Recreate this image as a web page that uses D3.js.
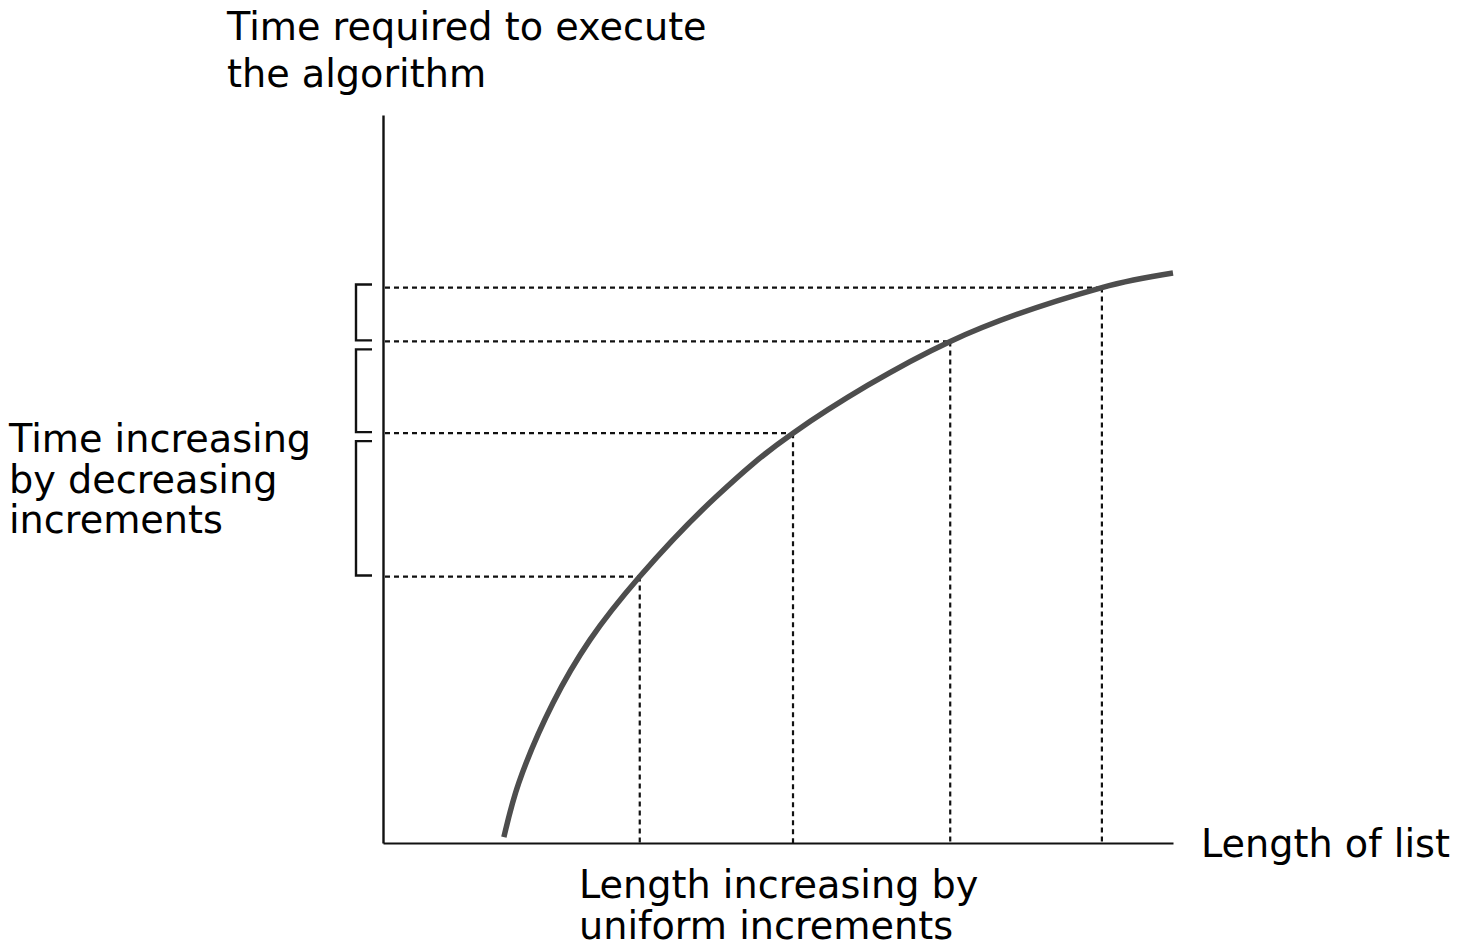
<!DOCTYPE html>
<html>
<head>
<meta charset="utf-8">
<script src="https://cdn.jsdelivr.net/npm/d3@7"></script>
<style>
  html, body { margin: 0; padding: 0; background: #fff; }
  svg { display: block; }
  text { font-family: "DejaVu Sans", sans-serif; fill: #000; }
</style>
</head>
<body>
<svg id="chart" width="1460" height="951"></svg>
<script>
// Curve (x: length of list, y: time), both in 0–100 units
const curveX = [15.3, 17.2, 21.5, 26.2, 32.5, 42.2, 51.9, 71.8, 91.0, 100];
const curveY = [0.8, 8.3, 19.2, 27.9, 36.6, 47.6, 56.3, 68.9, 76.3, 78.3];
// Uniformly spaced list lengths and the corresponding times
const markX = [32.5, 51.9, 71.8, 91.0];
const markY = [36.6, 56.3, 68.9, 76.3];
// Labels
const yTitle = ["Time required to execute", "the algorithm"];
const xTitle = ["Length of list"];
const leftNote = ["Time increasing", "by decreasing", "increments"];
const bottomNote = ["Length increasing by", "uniform increments"];

const svg = d3.select("#chart");
const x = d3.scaleLinear().domain([0, 100]).range([383, 1173]);
const y = d3.scaleLinear().domain([0, 100]).range([843, 115]);

// Axes (no ticks)
const xAxis = d3.axisBottom(x).tickValues([]).tickSizeOuter(0);
const yAxis = d3.axisLeft(y).tickValues([]).tickSizeOuter(0);
svg.append("g").attr("transform", `translate(0,${y(0)})`).call(xAxis)
  .select(".domain").attr("stroke", "#111").attr("stroke-width", 2.2);
svg.append("g").attr("transform", `translate(${x(0)},0)`).call(yAxis)
  .select(".domain").attr("stroke", "#111").attr("stroke-width", 2.4);

// Dashed guide lines
const marks = markX.map((v, i) => ({ x: markX[i], y: markY[i] }));
svg.append("g").selectAll("line.h").data(marks).join("line")
  .attr("x1", x(0) + 2).attr("x2", d => x(d.x))
  .attr("y1", d => y(d.y)).attr("y2", d => y(d.y))
  .attr("stroke", "#111").attr("stroke-width", 2.2).attr("stroke-dasharray", "5,4");
svg.append("g").selectAll("line.v").data(marks).join("line")
  .attr("x1", d => x(d.x)).attr("x2", d => x(d.x))
  .attr("y1", d => y(d.y)).attr("y2", y(0))
  .attr("stroke", "#111").attr("stroke-width", 2.2).attr("stroke-dasharray", "5,4");

// Curve
const pts = curveX.map((v, i) => [curveX[i], curveY[i]]);
svg.append("path").datum(pts)
  .attr("d", d3.line().x(d => x(d[0])).y(d => y(d[1])).curve(d3.curveCatmullRom.alpha(0.5)))
  .attr("fill", "none").attr("stroke", "#4d4d4d").attr("stroke-width", 5.5);

// Brackets between consecutive levels
const brackets = [];
for (let i = 0; i < markY.length - 1; i++) {
  const lo = markY[i], hi = markY[i + 1];
  const last = i === markY.length - 2;
  brackets.push({ top: y(hi) + (last ? -3 : 8), bottom: y(lo) - 1 });
}
const bx0 = 356, bx1 = 372;
svg.append("g").selectAll("path").data(brackets).join("path")
  .attr("d", d => `M${bx1},${d.top}H${bx0}V${d.bottom}H${bx1}`)
  .attr("fill", "none").attr("stroke", "#111").attr("stroke-width", 2.4);

// Texts
const fs = 38.2;
const t1 = svg.append("text").attr("font-size", fs);
yTitle.forEach((s, i) => t1.append("tspan").attr("x", 227).attr("y", 40 + i * 47).text(s));

svg.append("text").attr("x", 1201).attr("y", 857).attr("font-size", fs).text(xTitle[0]);

const t2 = svg.append("text").attr("font-size", fs);
leftNote.forEach((s, i) => t2.append("tspan").attr("x", 9).attr("y", 452 + i * 40.5).text(s));

bottomNote.forEach((s, i) => svg.append("text").attr("font-size", fs)
  .attr("x", 579).attr("y", 898 + i * 41).text(s));
</script>
</body>
</html>
